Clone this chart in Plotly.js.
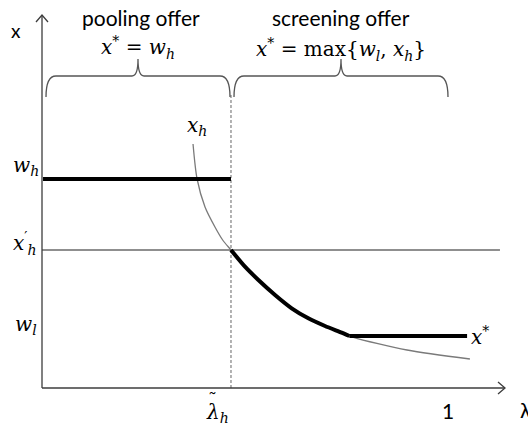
<!DOCTYPE html>
<html><head><meta charset="utf-8">
<script src="https://cdn.plot.ly/plotly-3.0.1.min.js"></script>
<style>html,body{margin:0;padding:0;background:#fff}#c{width:528px;height:426px}</style>
</head><body><div id="c"></div>
<script>
// ---- values (lambda on x, offer x on y) ----
const lambdaTilde = 0.4655;
const lambdaOne = 1;
const wH = 2.09;
const xHprime = 1.38;
const wL = 0.52;
const xhLambda = [0.372, 0.382, 0.4015, 0.426, 0.445, 0.4655, 0.500, 0.533, 0.574, 0.615, 0.656, 0.697, 0.738, 0.767, 0.899, 1.054];
const xhValue  = [2.44, 2.09, 1.81, 1.61, 1.48, 1.38, 1.213, 1.08, 0.93, 0.797, 0.697, 0.62, 0.553, 0.507, 0.38, 0.29];
const poolLambda = [0.0025, lambdaTilde];
const poolValue  = [wH, wH];
const screenCurveLambda = [lambdaTilde, 0.500, 0.533, 0.574, 0.615, 0.656, 0.697, 0.738, 0.757];
const screenCurveValue  = [xHprime, 1.213, 1.08, 0.93, 0.797, 0.697, 0.62, 0.553, wL];
const screenFlatLambda = [0.757, 1.047];
const screenFlatValue  = [wL, wL];
const xAxisEnd = 1.14, yAxisEnd = 3.73, xHprimeEnd = 1.128, dashTop = 2.93;

// ---- layout helpers (pixel -> data for decorations) ----
const W = 528, H = 426, X0 = 42, XS = 406, Y0 = 388, YS = 100;
const dx = p => (p - X0) / XS;
const dy = p => (Y0 - p) / YS;
const P = (x, y) => dx(x) + ',' + dy(y);
const px = x => x / W, py = y => 1 - y / H;

const sans = {family: 'Lato, "Open Sans", sans-serif', size: 21, color: '#000'};
const serif = {family: '"DejaVu Serif", "Liberation Serif", serif', size: 20, color: '#000'};

const traces = [
  {x: xhLambda, y: xhValue, mode: 'lines', line: {color: '#7a7a7a', width: 1.3, shape: 'spline', smoothing: 0.8}},
  {x: [0, xHprimeEnd], y: [xHprime, xHprime], mode: 'lines', line: {color: '#6a6a6a', width: 1.3}},
  {x: [lambdaTilde, lambdaTilde], y: [0, dashTop], mode: 'lines', line: {color: '#666', width: 1, dash: '3px,2px'}},
  {x: [0, xAxisEnd], y: [0, 0], mode: 'lines', line: {color: '#3c3c3c', width: 1.3}},
  {x: [0, 0], y: [0, yAxisEnd], mode: 'lines', line: {color: '#3c3c3c', width: 1.3}},
  {x: poolLambda, y: poolValue, mode: 'lines', line: {color: '#000', width: 4}},
  {x: screenCurveLambda, y: screenCurveValue, mode: 'lines', line: {color: '#000', width: 4, shape: 'spline', smoothing: 0.7}},
  {x: screenFlatLambda, y: screenFlatValue, mode: 'lines', line: {color: '#000', width: 4}}
];

function brace(x1, x2, xm) {
  return 'M' + P(x1, 97) + ' Q' + P(x1, 76) + ' ' + P(x1 + 10, 76) +
    ' L' + P(xm - 6, 76) + ' Q' + P(xm, 76) + ' ' + P(xm, 59) +
    ' Q' + P(xm, 76) + ' ' + P(xm + 6, 76) +
    ' L' + P(x2 - 10, 76) + ' Q' + P(x2, 76) + ' ' + P(x2, 97);
}
const shapes = [
  {type: 'path', xref: 'x', yref: 'y', path: brace(46, 230, 138), line: {color: '#555', width: 1.3}},
  {type: 'path', xref: 'x', yref: 'y', path: brace(234, 448, 341), line: {color: '#555', width: 1.3}},
  {type: 'path', xref: 'x', yref: 'y', path: 'M' + P(36, 22) + ' L' + P(42, 15) + ' L' + P(48, 22), line: {color: '#3c3c3c', width: 1.3}},
  {type: 'path', xref: 'x', yref: 'y', path: 'M' + P(498, 382) + ' L' + P(505, 388) + ' L' + P(498, 394), line: {color: '#3c3c3c', width: 1.3}}
];

function ann(text, x, y, font, extra) {
  return Object.assign({text, xref: 'paper', yref: 'paper', x: px(x), y: py(y),
    xanchor: 'center', yanchor: 'middle', showarrow: false, font}, extra || {});
}
const annotations = [
  ann('x', 16, 30, Object.assign({}, sans, {size: 19})),
  ann('pooling offer', 141, 17, sans),
  ann('screening offer', 341, 17, sans),
  ann('<i>x</i><sup>*</sup> = <i>w</i><sub><i>h</i></sub>', 138, 48, serif),
  ann('<i>x</i><sup>*</sup> = max{<i>w</i><sub><i>l</i></sub>, <i>x</i><sub><i>h</i></sub>}', 341, 49, serif),
  ann('<i>x</i><sub><i>h</i></sub>', 197, 126, serif),
  ann('<i>w</i><sub><i>h</i></sub>', 26, 166, serif),
  ann('<i>x</i><sup>′</sup><sub><i>h</i></sub>', 25, 243, serif),
  ann('<i>w</i><sub><i>l</i></sub>', 26, 325, serif),
  ann('<i>λ</i><sub><i>h</i></sub>', 217, 413, serif),
  ann('˜', 212, 399, Object.assign({}, serif, {size: 18})),
  ann('1', 448, 410, sans),
  ann('λ', 526, 409, sans),
  ann('<i>x</i><sup>*</sup>', 480, 336, serif)
];

const layout = {
  width: W, height: H, margin: {l: 0, r: 0, t: 0, b: 0},
  paper_bgcolor: '#fff', plot_bgcolor: '#fff', showlegend: false,
  xaxis: {range: [dx(0), dx(W)], visible: false, fixedrange: true},
  yaxis: {range: [dy(H), dy(0)], visible: false, fixedrange: true},
  shapes, annotations
};
Plotly.newPlot('c', traces, layout, {displayModeBar: false, staticPlot: true});
</script></body></html>
